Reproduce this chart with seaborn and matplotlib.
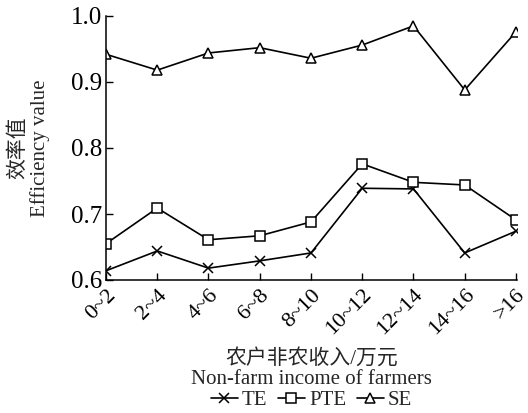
import matplotlib
matplotlib.use("Agg")
import matplotlib.pyplot as plt
import pandas as pd
import seaborn as sns

income = ["0~2", "2~4", "4~6", "6~8", "8~10", "10~12", "12~14", "14~16", ">16"]
te = [0.614, 0.644, 0.618, 0.629, 0.641, 0.739, 0.738, 0.641, 0.674]
pte = [0.655, 0.709, 0.661, 0.667, 0.688, 0.776, 0.748, 0.744, 0.691]
se = [0.942, 0.918, 0.944, 0.952, 0.936, 0.956, 0.985, 0.888, 0.976]
series = {"TE": te, "PTE": pte, "SE": se}
marker_of = {"TE": "x", "PTE": "s", "SE": "^"}

sns.set_style("ticks")
fonts = ["Liberation Serif", "Noto Sans CJK SC"]
plt.rcParams["font.family"] = fonts
plt.rcParams["xtick.direction"] = "in"
plt.rcParams["ytick.direction"] = "in"

fig = plt.figure(figsize=(5.28, 4.13), dpi=100)
ax = fig.add_axes([106 / 528, 1 - 280 / 413, 411 / 528, 264 / 413])

for name, vals in series.items():
    d = pd.DataFrame({"pos": range(len(income)), "value": vals})
    sns.lineplot(data=d, x="pos", y="value", marker=marker_of[name], label=name,
                 color="black", linewidth=1.2, markersize=7,
                 markerfacecolor="white", markeredgecolor="black",
                 markeredgewidth=1.1, ax=ax)

ax.set_xlim(0, 8.02)
ax.set_ylim(0.6, 1.0)
ax.set_yticks([0.6, 0.7, 0.8, 0.9, 1.0])
ax.set_yticklabels(["0.6", "0.7", "0.8", "0.9", "1.0"], fontsize=18)
ax.set_xticks(range(len(income)))
ax.set_xticklabels(income, rotation=45, ha="right", rotation_mode="anchor", fontsize=16)
ax.tick_params(axis="y", length=5, width=1, colors="black", pad=3)
ax.tick_params(axis="x", length=5, width=1, colors="black", pad=4)
sns.despine(ax=ax)
for s in ["left", "bottom"]:
    ax.spines[s].set_linewidth(1.1)
    ax.spines[s].set_color("black")

ax.set_ylabel("效率值\nEfficiency value", fontsize=15, linespacing=1.15, va="center")
ax.yaxis.set_label_coords(-0.187, 0.5)
ax.set_xlabel("农户非农收入/万元\nNon-farm income of farmers", fontsize=15, linespacing=1.05, va="top")
ax.xaxis.set_label_coords(0.5, -0.262)

ax.legend(loc="center", bbox_to_anchor=(0.5, -0.457), ncol=3, frameon=False,
          fontsize=15, handlelength=1.3, handletextpad=0.2, columnspacing=0.5,
          borderaxespad=0, borderpad=0)

fig.savefig("out.png", dpi=100)
